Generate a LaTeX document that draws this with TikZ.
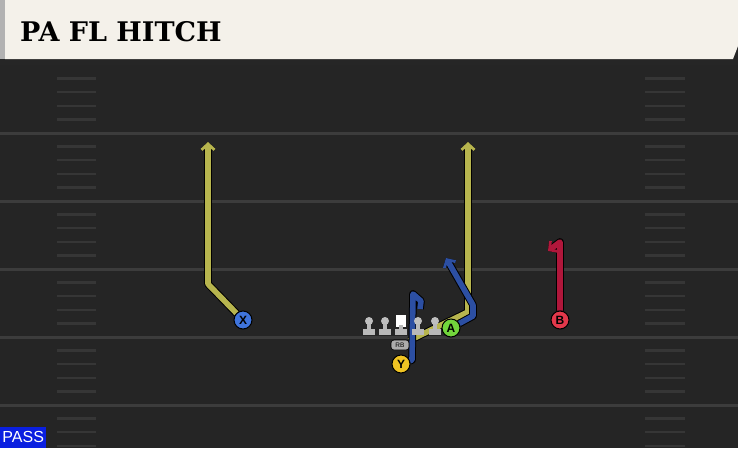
\documentclass[tikz,border=0pt]{standalone}
\usepackage{fontspec}
\usetikzlibrary{arrows.meta}
\usetikzlibrary{positioning}
\newfontfamily\slabfont{DejaVu Serif}
\newfontfamily\tagfont{Liberation Sans}
\definecolor{turf}{HTML}{252525}
\definecolor{yardline}{HTML}{3C3C3C}
\definecolor{hashline}{HTML}{363636}
\definecolor{card}{HTML}{F4F1EA}
\definecolor{yelroute}{HTML}{B7B54E}
\definecolor{bluroute}{HTML}{2C4FA3}
\definecolor{redroute}{HTML}{B0173B}
\definecolor{xblue}{HTML}{3F74DC}
\definecolor{agreen}{HTML}{72D63C}
\definecolor{bred}{HTML}{E3384B}
\definecolor{yyellow}{HTML}{F0C423}
\definecolor{passblue}{HTML}{0A1FE0}
\pgfdeclarelayer{field}
\pgfdeclarelayer{routes}
\pgfsetlayers{field,routes,main}
\tikzset{
  route/.style={line width=5.6pt,line join=round,
    preaction={draw=black,line width=7.6pt,line join=round}},
  tip/.style={-{Straight Barb[length=6pt,width=13pt,line width=2.8pt]}},
  player/.style={circle,draw=black,line width=1pt,minimum size=18pt,
    inner sep=0pt,font=\tagfont\bfseries\fontsize{12}{12}\selectfont},
  head/.style={circle,fill=gray!50,minimum size=8pt,inner sep=0pt},
  base/.style={rectangle,fill=gray!55,minimum width=12pt,minimum height=6pt,inner sep=0pt},
  stem/.style={rectangle,fill=gray!55,minimum width=4pt,minimum height=7pt,inner sep=0pt}
}
\begin{document}
\begin{tikzpicture}[x=1pt,y=-1pt]
  \useasboundingbox (0,0) rectangle (738,448);
  \begin{pgfonlayer}{field}
    \fill[turf] (0,0) rectangle (738,448);
    \fill[black!85] (0,59) rectangle (738,65);
    \foreach \k in {5,10,15,20,25}
      \draw[yardline,line width=3pt] (0,65+13.6*\k) -- (738,65+13.6*\k);
    \foreach \k in {1,2,3,4,6,7,8,9,11,12,13,14,16,17,18,19,21,22,23,24,26,27,28} {
      \draw[hashline,line width=2.4pt] (57,65+13.6*\k) -- (96,65+13.6*\k);
      \draw[hashline,line width=2.4pt] (645,65+13.6*\k) -- (685,65+13.6*\k);
    }
    % title card
    \fill[gray!60] (0,0) rectangle (5,59);
    \fill[card] (5,0) -- (738,0) -- (738,46) -- (733,59) -- (5,59) -- cycle;
  \end{pgfonlayer}
  \node[anchor=west,inner sep=0pt] (title) at (20,32)
    {\slabfont\bfseries\fontsize{27}{27}\selectfont PA FL HITCH};
  \node[fill=passblue,text=white,anchor=south west,inner sep=0pt,
    minimum width=46pt,minimum height=21pt] (pass) at (0,448)
    {\tagfont\fontsize{16}{16}\selectfont PASS};

  % line
  \node[head] (lt) at (369,321) {};
  \node[stem] at (369,327) {};
  \node[base] (ltb) at (369,332) {};
  \node[head] (lg) at (385,321) {};
  \node[stem] at (385,327) {};
  \node[base] (lgb) at (385,332) {};
  \node[rectangle,fill=white,minimum width=10pt,minimum height=12pt,inner sep=0pt] (c) at (401,321) {};
  \node[stem] at (401,328) {};
  \node[base] (cb) at (401,332) {};
  \node[head] (rg) at (418,321) {};
  \node[stem] at (418,327) {};
  \node[base] (rgb) at (418,332) {};
  \node[head] (rt) at (435,321) {};
  \node[stem] at (435,327) {};
  \node[base] (rtb) at (435,332) {};

  % skill players
  \node[player,fill=xblue] (X) at (243,320) {X};
  \node[player,fill=agreen] (A) at (451,328) {A};
  \node[player,fill=bred] (B) at (560,320) {B};
  \node[player,fill=yyellow] (Y) at (401,364) {Y};
  \node[rectangle,rounded corners=3pt,fill=gray!65,draw=black,line width=0.6pt,
    minimum width=18pt,minimum height=10pt,inner sep=0pt,
    font=\tagfont\fontsize{6.5}{6.5}\selectfont] (RB) at (400,345) {RB};

  \coordinate (xbreak) at (208,284);
  \coordinate (xtop) at (208,142);
  \coordinate (rbbreak) at (468,312);
  \coordinate (rbtop) at (468,142);
  \coordinate (ybend) at (412,360);
  \coordinate (ytop) at (413,294);
  \coordinate (yflag) at (421,301);
  \coordinate (yend) at (420,309);
  \coordinate (abend) at (473,316);
  \coordinate (abreak) at (473,305);
  \coordinate (aend) at (446,258);
  \coordinate (btop) at (560,242);
  \coordinate (bend) at (548,251);

  \begin{pgfonlayer}{routes}
    \draw[route,yelroute,tip] (X) -- (xbreak) -- (xtop);
    \draw[route,yelroute,tip] (RB) -- (rbbreak) -- (rbtop);
    \draw[route,bluroute] (Y) -- (ybend) -- (ytop) -- (yflag) -- (yend);
    \draw[route,bluroute,tip] (A) -- (abend) -- (abreak) -- (aend);
    \draw[route,redroute,tip] (B) -- (btop) -- (bend);
  \end{pgfonlayer}
\end{tikzpicture}
\end{document}
